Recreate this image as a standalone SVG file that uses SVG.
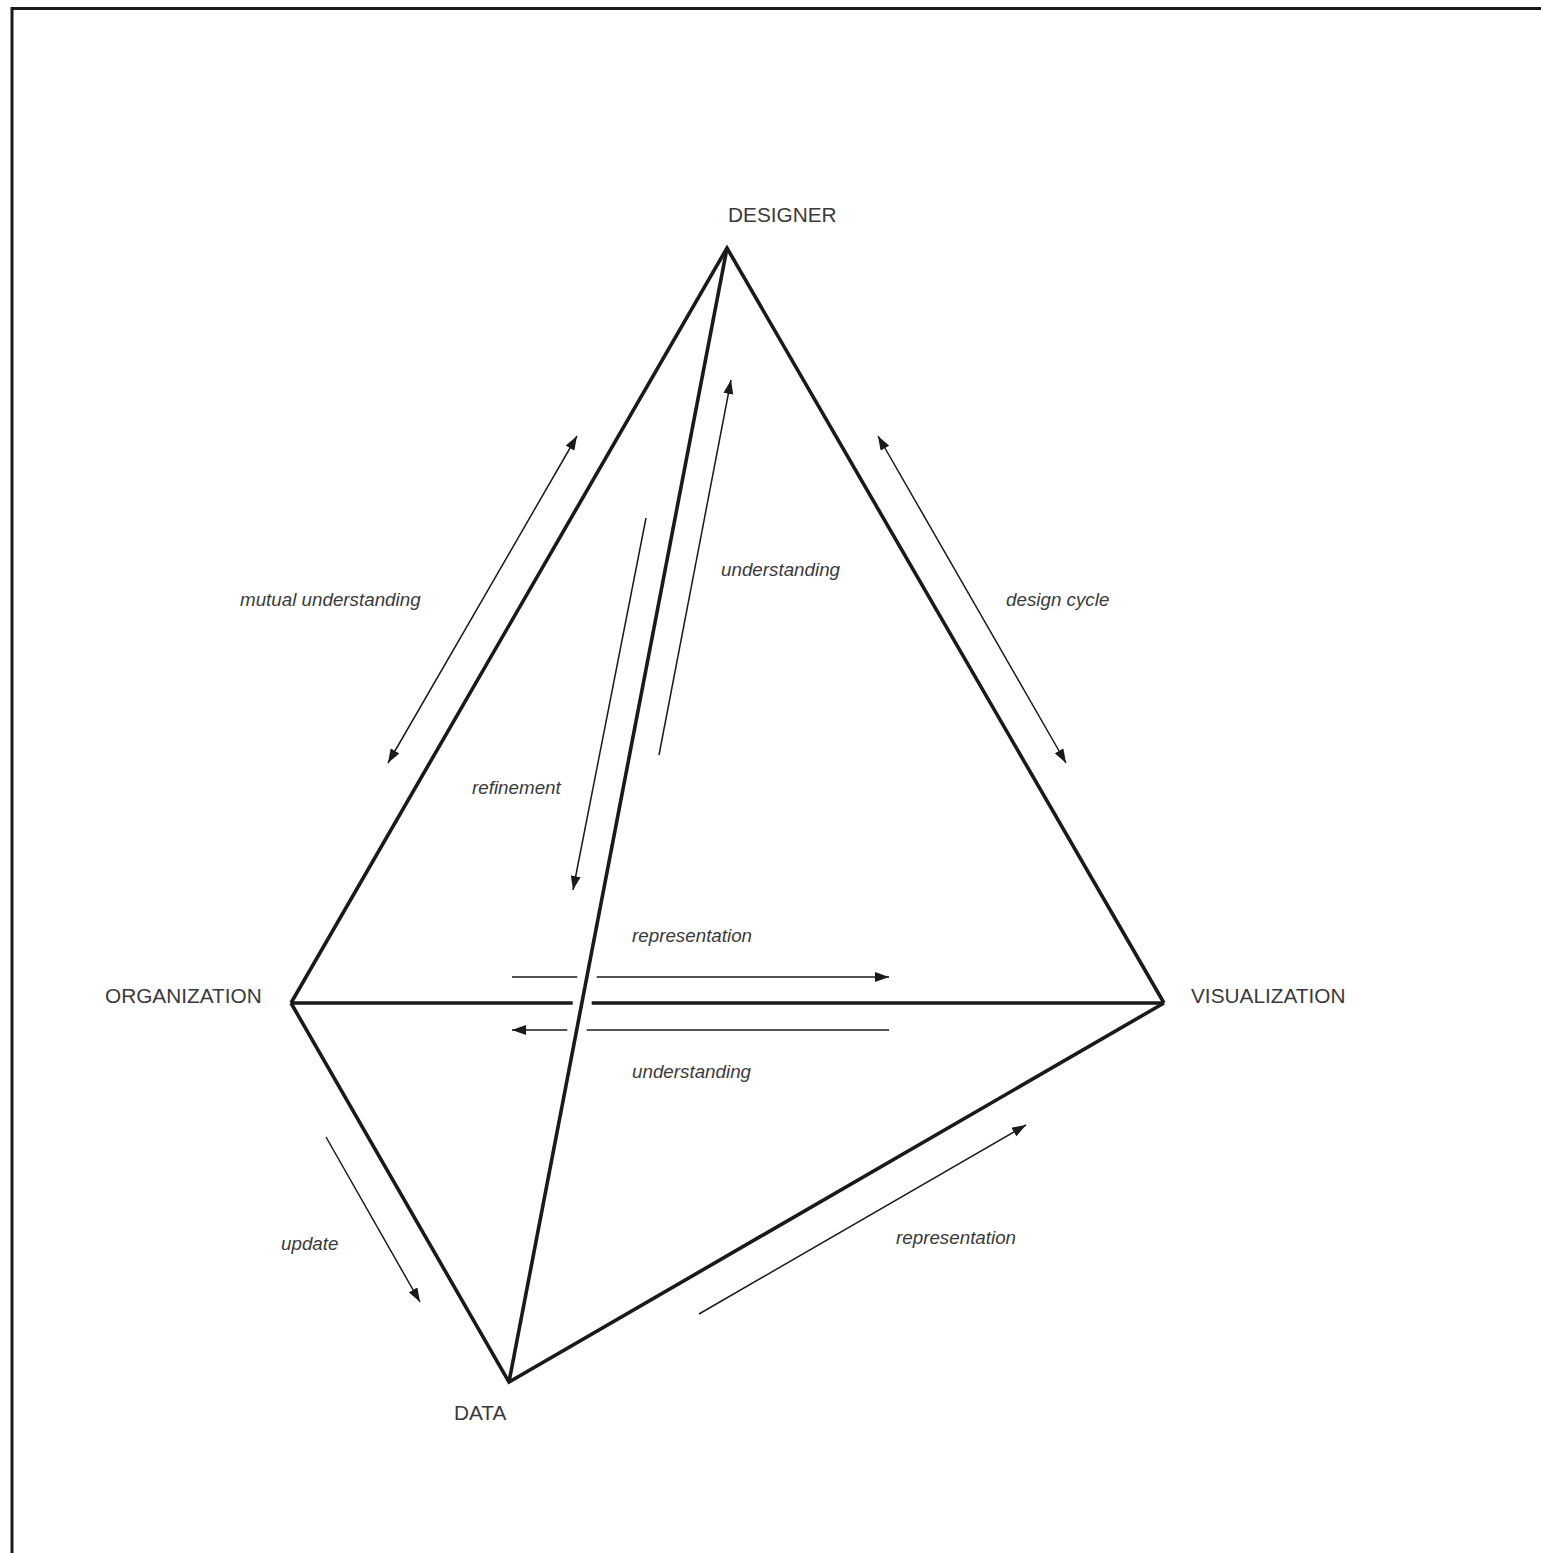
<svg xmlns="http://www.w3.org/2000/svg" width="1541" height="1553" viewBox="0 0 1541 1553">
<style>
.frame{fill:none;stroke:#1a1a1a;stroke-width:3}
.edge{fill:none;stroke:#1a1a1a;stroke-width:3.6;stroke-linejoin:miter;stroke-linecap:butt}
.thin{fill:none;stroke:#1a1a1a;stroke-width:1.5}
.node{font-family:"Liberation Sans",Arial,sans-serif;font-size:20.8px;fill:#3a3a3a}
.lbl{font-family:"Liberation Sans",Arial,sans-serif;font-size:18.8px;font-style:italic;fill:#3a3a3a}
</style>
<defs>
<marker id="ah" viewBox="0 0 14 10" refX="14" refY="5" markerWidth="14" markerHeight="10" markerUnits="userSpaceOnUse" orient="auto-start-reverse">
<path d="M0,0 L14,5 L0,10 z" fill="#1a1a1a"/>
</marker>
</defs>
<rect width="1541" height="1553" fill="#fff"/>
<path class="frame" d="M12,1553 V8.5 H1541"/>
<g id="connectors">
<path class="edge" d="M291,1003 L727,248 L1164,1003"/>
<path class="edge" d="M727,248 L509,1382"/>
<path class="edge" d="M291,1003 L509,1382 L1164,1003"/>
<path class="edge" d="M291,1003 H572.7"/>
<path class="edge" d="M591.7,1003 H1164"/>
<line class="thin" x1="388" y1="763" x2="577" y2="436" marker-start="url(#ah)" marker-end="url(#ah)"/>
<line class="thin" x1="659" y1="755" x2="731" y2="380" marker-end="url(#ah)"/>
<line class="thin" x1="646" y1="518" x2="573" y2="890" marker-end="url(#ah)"/>
<line class="thin" x1="878" y1="436" x2="1066" y2="763" marker-start="url(#ah)" marker-end="url(#ah)"/>
<line class="thin" x1="512" y1="977" x2="577.3" y2="977"/>
<line class="thin" x1="596.7" y1="977" x2="889" y2="977" marker-end="url(#ah)"/>
<line class="thin" x1="567.3" y1="1030" x2="512" y2="1030" marker-end="url(#ah)"/>
<line class="thin" x1="889" y1="1030" x2="586.7" y2="1030"/>
<line class="thin" x1="326" y1="1137" x2="420" y2="1302" marker-end="url(#ah)"/>
<line class="thin" x1="699" y1="1314" x2="1026" y2="1125" marker-end="url(#ah)"/>
</g>
<g id="designer"><text class="node" x="728" y="222">DESIGNER</text></g>
<g id="organization"><text class="node" x="105" y="1003">ORGANIZATION</text></g>
<g id="visualization"><text class="node" x="1191" y="1003">VISUALIZATION</text></g>
<g id="data"><text class="node" x="454" y="1420">DATA</text></g>
<g id="labels">
<text class="lbl" x="240" y="606">mutual understanding</text>
<text class="lbl" x="721" y="576">understanding</text>
<text class="lbl" x="1006" y="606">design cycle</text>
<text class="lbl" x="472" y="794">refinement</text>
<text class="lbl" x="632" y="942">representation</text>
<text class="lbl" x="632" y="1078">understanding</text>
<text class="lbl" x="281" y="1250">update</text>
<text class="lbl" x="896" y="1244">representation</text>
</g>
</svg>
